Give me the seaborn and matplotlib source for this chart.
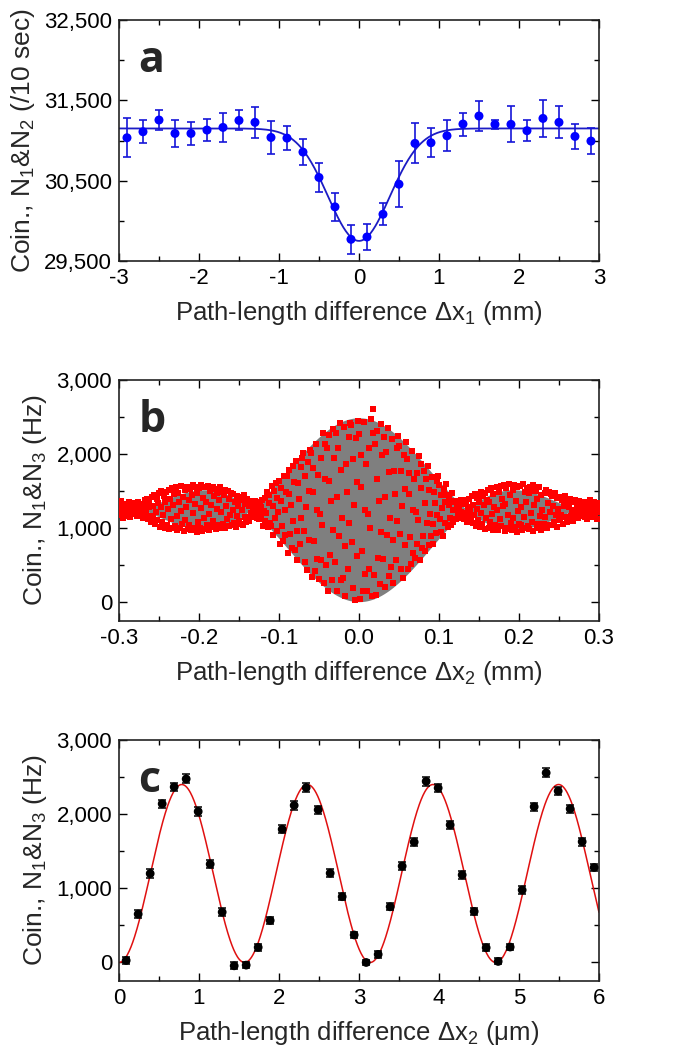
import numpy as np
import matplotlib
matplotlib.use('Agg')
import matplotlib.pyplot as plt
from matplotlib.ticker import MultipleLocator, FuncFormatter
import seaborn as sns

# --- panel a: dip vs path-length difference (mm) ---
a_x = [-2.9, -2.7, -2.5, -2.3, -2.1, -1.9, -1.7, -1.5, -1.3, -1.1,
       -0.9, -0.7, -0.5, -0.3, -0.1, 0.1, 0.3, 0.5, 0.7, 0.9,
       1.1, 1.3, 1.5, 1.7, 1.9, 2.1, 2.3, 2.5, 2.7, 2.9]
a_y = [31034, 31109, 31255, 31088, 31088, 31130, 31163, 31250, 31226, 31038,
       31030, 30856, 30540, 30174, 29770, 29799, 30082, 30456, 30964, 30972,
       31059, 31205, 31305, 31201, 31201, 31122, 31275, 31226, 31051, 30993]
a_err = [243, 140, 120, 165, 140, 133, 185, 125, 195, 200,
         150, 160, 178, 178, 183, 165, 137, 285, 250, 183,
         190, 143, 187, 58, 225, 131, 229, 200, 160, 165]
# gaussian fit parameters
a_base, a_depth, a_sigma = 31150, 1400, 0.385

# --- panel b: fringes over +-0.3 mm, 1 um steps ---
b_left = [
    1310, 1180, 1260, 1370, 1200, 1140, 1290, 1330, 1220, 1250,
    1170, 1300, 1360, 1230, 1150, 1280, 1210, 1340, 1190, 1270,
    1320, 1200, 1160, 1290, 1350, 1230, 1180, 1260, 1310, 1210,
    1140, 1330, 1380, 1190, 1250, 1400, 1120, 1280, 1360, 1170,
    1090, 1420, 1300, 1150, 1450, 1060, 1220, 1390, 1110, 1340,
    1470, 1020, 1280, 1500, 1080, 1180, 1430, 1000, 1350, 1490,
    1050, 1260, 1520, 990, 1400, 1130, 1540, 1010, 1310, 1460,
    1030, 1550, 1170, 980, 1480, 1360, 1000, 1230, 1570, 1060,
    1420, 960, 1510, 1110, 1290, 1560, 990, 1380, 1050, 1530,
    970, 1450, 1200, 1580, 1010, 1330, 1550, 950, 1470, 1090,
    1540, 1000, 1270, 1590, 960, 1410, 1140, 1560, 990, 1350,
    1050, 1570, 1190, 980, 1500, 1310, 1020, 1550, 1100, 1440,
    1530, 990, 1260, 1480, 1040, 1380, 1560, 1010, 1220, 1490,
    1060, 1450, 1520, 1000, 1300, 1120, 1500, 1030, 1400, 1180,
    1480, 1050, 1240, 1460, 1070, 1350, 1020, 1440, 1160, 1300,
    1100, 1420, 1060, 1380, 1250, 1040, 1450, 1150, 1330, 1080,
    1390, 1130, 1300, 1100, 1370, 1200, 1150, 1340, 1260, 1180]
b_center = [
    1370, 1204, 1139, 1322, 1257, 1123, 1351, 1185, 1289, 1376,
    1034, 1238, 1413, 1094, 1202, 1490, 1022, 1346, 1454, 1077,
    1034, 1567, 1304, 915, 1502, 1142, 1606, 962, 1412, 1214,
    1644, 784, 1370, 1538, 1034, 828, 1706, 1250, 914, 1490,
    1700, 662, 1460, 1790, 920, 1310, 740, 1838, 1100, 1622,
    710, 1912, 962, 566, 1610, 1394, 782, 1826, 1142, 1941,
    2014, 959, 544, 1707, 1292, 437, 1897, 835, 1499, 2055,
    2021, 338, 1485, 1814, 827, 423, 2143, 1250, 592, 1720,
    318, 1198, 1954, 577, 1043, 2285, 267, 1664, 2130, 505,
    2086, 157, 1640, 2254, 637, 1362, 302, 2343, 971, 1941,
    542, 2288, 1427, 153, 2076, 896, 2418, 306, 1781, 1132,
    335, 2372, 762, 91, 1860, 1494, 457, 2226, 1067, 2421,
    2391, 816, 196, 1932, 1312, 35, 2217, 630, 1622, 2453,
    2267, 47, 1560, 1994, 692, 159, 2428, 1250, 382, 1870,
    152, 1189, 2080, 457, 1006, 2470, 91, 2610, 2287, 372,
    2135, 94, 1663, 2312, 601, 1368, 247, 2406, 955, 1982,
    581, 2231, 1417, 213, 2031, 915, 2354, 358, 1752, 1138,
    474, 2202, 836, 267, 1768, 1457, 577, 2078, 1095, 2244,
    2115, 921, 451, 1767, 1297, 329, 1983, 780, 1532, 2162,
    1931, 445, 1458, 1748, 876, 520, 2039, 1250, 669, 1665,
    602, 1214, 1740, 782, 1106, 1970, 566, 1538, 1862, 732,
    890, 1778, 1340, 692, 1670, 1070, 1844, 770, 1520, 1190,
    890, 1692, 1058, 794, 1490, 1346, 938, 1634, 1178, 1711,
    1581, 1124, 944, 1448, 1268, 897, 1531, 1070, 1358, 1599,
    1447, 1017, 1310, 1394, 1142, 1039, 1478, 1250, 1082, 1370,
    1348, 1123, 1296, 1367, 1178, 1263, 1139, 1377, 1217, 1331, 1155]
b_right = [
    1120, 1380, 1200, 1330, 1090, 1290, 1160, 1400, 1230, 1110,
    1440, 1070, 1320, 1180, 1460, 1030, 1260, 1410, 1110, 1350,
    1020, 1490, 1200, 1060, 1430, 1310, 990, 1470, 1140, 1380,
    1520, 1000, 1350, 1080, 1540, 1190, 970, 1460, 1280, 1050,
    1010, 1560, 1240, 980, 1490, 1120, 1570, 1030, 1400, 1300,
    1590, 960, 1330, 1540, 1010, 1180, 1600, 990, 1450, 1070,
    980, 1510, 1140, 1580, 1020, 1370, 950, 1550, 1230, 1060,
    1570, 1040, 1290, 970, 1600, 1150, 1490, 1000, 1360, 1540,
    1030, 1470, 990, 1550, 1210, 1080, 1580, 960, 1320, 1500,
    1510, 1000, 1390, 1060, 1560, 1170, 980, 1450, 1250, 1020,
    1060, 1480, 1150, 1520, 1010, 1340, 1490, 1040, 1220, 1460,
    1440, 1050, 1300, 1090, 1470, 1180, 1020, 1410, 1260, 1110,
    1120, 1420, 1180, 1380, 1060, 1300, 1440, 1150, 1340, 1090,
    1370, 1130, 1290, 1400, 1160, 1240, 1100, 1350, 1210, 1380,
    1180, 1330, 1250, 1140, 1370, 1210, 1300, 1160, 1360, 1230,
    1290, 1150, 1350, 1220, 1130, 1320, 1260, 1170, 1380, 1200,
    1150, 1310, 1240, 1360, 1190, 1270, 1130, 1340, 1220, 1280]
b_counts = b_left + b_center + b_right
# envelope of the fitted fringe curve
b_mid, b_amp, b_width = 1250, 1240, 0.135

# --- panel c: fringes over 6 um ---
c_x = [0.09, 0.24, 0.39, 0.54, 0.69, 0.84, 0.99, 1.14, 1.29, 1.44,
       1.59, 1.74, 1.89, 2.04, 2.19, 2.34, 2.49, 2.64, 2.79, 2.94,
       3.09, 3.24, 3.39, 3.54, 3.69, 3.84, 3.99, 4.14, 4.29, 4.44,
       4.59, 4.74, 4.89, 5.04, 5.19, 5.34, 5.49, 5.64, 5.79, 5.94]
c_y = [27, 652, 1199, 2140, 2367, 2475, 2036, 1326, 679, -45,
       -36, 204, 566, 1796, 2118, 2357, 2059, 1204, 887, 371,
       0, 109, 751, 1299, 1624, 2443, 2353, 1855, 1181, 688,
       199, 14, 208, 977, 2100, 2557, 2312, 2072, 1629, 1281]
c_err = [45, 50, 55, 55, 60, 60, 55, 55, 50, 45,
         45, 45, 50, 55, 60, 60, 55, 50, 50, 45,
         40, 45, 50, 55, 55, 60, 60, 55, 55, 50,
         45, 40, 45, 50, 55, 60, 60, 55, 55, 50]
# cosine fit parameters
c_mean, c_period = 1200, 1.57

sns.set_style('ticks')
plt.rcParams['font.family'] = ['Liberation Sans', 'DejaVu Sans']
plt.rcParams['mathtext.fontset'] = 'custom'
plt.rcParams['mathtext.rm'] = 'Liberation Sans'
plt.rcParams['mathtext.it'] = 'Liberation Sans:italic'
plt.rcParams['axes.unicode_minus'] = False

fig = plt.figure(figsize=(6.85, 10.64), dpi=100)
L, W, H = 0.1737, 0.7007, 0.2265
ax_a = fig.add_axes([L, 0.7547, W, H])
ax_b = fig.add_axes([L, 0.4164, W, H])
ax_c = fig.add_axes([L, 0.0780, W, H])

comma = FuncFormatter(lambda v, p: f'{v:,.0f}')


def style(ax, letter, xminor, yminor):
    ax.tick_params(which='both', direction='in', top=True, right=True,
                   width=1, labelsize=16, colors='black')
    ax.tick_params(which='major', length=6, pad=5)
    ax.tick_params(which='minor', length=3.5)
    ax.xaxis.set_minor_locator(MultipleLocator(xminor))
    ax.yaxis.set_minor_locator(MultipleLocator(yminor))
    for s in ax.spines.values():
        s.set_visible(True)
        s.set_linewidth(1.2)
        s.set_color('#222222')
    ax.text(0.04, 0.785, letter, transform=ax.transAxes, fontsize=31,
            fontweight='bold', family=['Open Sans', 'DejaVu Sans'])


# a
xf = np.linspace(-3, 3, 600)
yf = a_base - a_depth * np.exp(-xf ** 2 / (2 * a_sigma ** 2))
sns.lineplot(x=xf, y=yf, ax=ax_a, color='#1c1cc4', lw=1.3)
ax_a.errorbar(a_x, a_y, yerr=a_err, fmt='none', ecolor='#1515d8',
              elinewidth=1.2, capsize=3, capthick=1.2)
sns.scatterplot(x=a_x, y=a_y, ax=ax_a, color='#0000ff', s=42,
                edgecolor='none', zorder=3)
ax_a.set_xlim(-3, 3)
ax_a.set_ylim(29500, 32500)
ax_a.set_yticks([29500, 30500, 31500, 32500])
ax_a.set_xticks(range(-3, 4))
ax_a.yaxis.set_major_formatter(comma)
style(ax_a, 'a', 0.5, 500)
ax_a.set_xlabel('Path-length difference Δx$_1$ (mm)', fontsize=18.5, labelpad=7)
ax_a.set_ylabel('Coin., N$_1$&N$_2$ (/10 sec)', fontsize=19, labelpad=5)

# b
bx = np.linspace(-0.3, 0.3, len(b_counts))
xe = np.linspace(-0.3, 0.3, 1200)
env = b_amp * np.abs(np.sinc(xe / b_width))
ax_b.fill_between(xe, b_mid - env, b_mid + env, color='#7f7f7f', lw=0)
sns.scatterplot(x=bx, y=b_counts, ax=ax_b, color='#ff0000', marker='s',
                s=24, linewidth=0, zorder=3)
ax_b.set_xlim(-0.3, 0.3)
ax_b.set_ylim(-250, 3000)
ax_b.set_xticks([-0.3, -0.2, -0.1, 0.0, 0.1, 0.2, 0.3])
ax_b.xaxis.set_major_formatter(FuncFormatter(lambda v, p: f'{abs(v):.1f}' if abs(v) < 1e-9 else f'{v:.1f}'))
ax_b.set_yticks([0, 1000, 2000, 3000])
ax_b.yaxis.set_major_formatter(comma)
style(ax_b, 'b', 0.05, 500)
ax_b.set_xlabel('Path-length difference Δx$_2$ (mm)', fontsize=18.5, labelpad=7)
ax_b.set_ylabel('Coin., N$_1$&N$_3$ (Hz)', fontsize=19, labelpad=5)

# c
xc = np.linspace(0, 6, 800)
yc = c_mean - c_mean * np.cos(2 * np.pi * xc / c_period)
sns.lineplot(x=xc, y=yc, ax=ax_c, color='#e01010', lw=1.1)
ax_c.errorbar(c_x, c_y, yerr=c_err, fmt='none', ecolor='black',
              elinewidth=1.1, capsize=3, capthick=1.1)
sns.scatterplot(x=c_x, y=c_y, ax=ax_c, color='black', s=40,
                edgecolor='none', zorder=3)
ax_c.set_xlim(0, 6)
ax_c.set_ylim(-250, 3000)
ax_c.set_xticks(range(0, 7))
ax_c.set_yticks([0, 1000, 2000, 3000])
ax_c.yaxis.set_major_formatter(comma)
style(ax_c, 'c', 0.5, 500)
ax_c.set_xlabel('Path-length difference Δx$_2$ (μm)', fontsize=18.5, labelpad=7)
ax_c.set_ylabel('Coin., N$_1$&N$_3$ (Hz)', fontsize=19, labelpad=5)

fig.savefig('out.png', dpi=100)
